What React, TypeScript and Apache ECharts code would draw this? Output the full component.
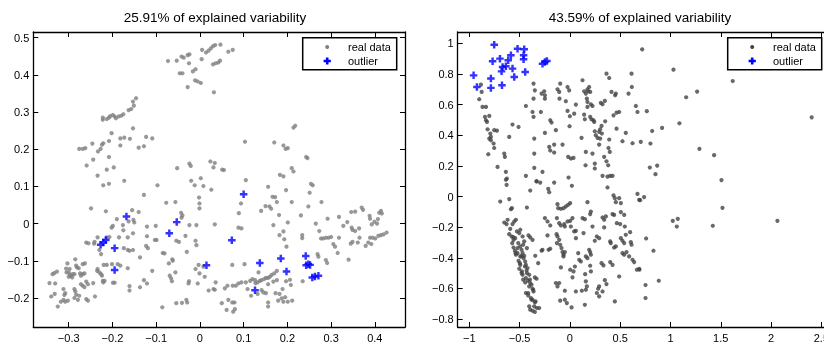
import React, { useEffect, useRef } from 'react';
import * as echarts from 'echarts';

const titles = ['25.91% of explained variability', '43.59% of explained variability'];
const legendNames = ['real data', 'outlier'];

const leftXTicks = [-0.3, -0.2, -0.1, 0, 0.1, 0.2, 0.3, 0.4];
const leftYTicks = [-0.2, -0.1, 0, 0.1, 0.2, 0.3, 0.4, 0.5];
const rightXTicks = [-1, -0.5, 0, 0.5, 1, 1.5, 2, 2.5];
const rightYTicks = [-0.8, -0.6, -0.4, -0.2, 0, 0.2, 0.4, 0.6, 0.8, 1];

const leftRange = { xMin: -0.381, xMax: 0.469, yMin: -0.278, yMax: 0.515 };
const rightRange = { xMin: -1.115, xMax: 2.58, yMin: -0.852, yMax: 1.074 };

const leftReal = [
  [-0.073,0.437],[-0.053,0.438],[-0.042,0.449],[-0.037,0.446],[-0.028,0.453],[-0.024,0.455],[-0.025,0.431],[-0.046,0.404],[-0.040,0.404],[-0.016,0.409],[-0.010,0.415],[-0.011,0.385],[-0.005,0.382],[0.002,0.378],[-0.028,0.367],[0.005,0.467],[0.004,0.442],[0.014,0.460],[0.020,0.465],[0.025,0.471],[0.030,0.477],[0.035,0.480],[0.047,0.481],[0.030,0.428],[0.036,0.431],[0.042,0.433],[0.046,0.438],[0.065,0.462],[0.075,0.467],[0.032,0.353],
  [-0.222,0.285],[-0.222,0.279],[-0.213,0.281],[-0.208,0.285],[-0.205,0.289],[-0.199,0.292],[-0.195,0.288],[-0.192,0.283],[-0.186,0.288],[-0.180,0.290],[-0.175,0.294],[-0.163,0.305],[-0.157,0.308],[-0.151,0.317],[-0.153,0.328],[-0.146,0.337],
  [-0.202,0.243],[-0.153,0.256],[-0.246,0.215],[-0.224,0.212],[-0.221,0.216],[-0.208,0.222],[-0.182,0.229],[-0.173,0.231],[-0.160,0.228],[-0.182,0.210],[-0.123,0.233],[-0.109,0.229],[-0.140,0.204],[-0.128,0.208],[-0.276,0.201],[-0.268,0.201],[-0.262,0.203],[-0.233,0.194],[-0.227,0.201],[-0.244,0.172],[-0.259,0.156],[-0.208,0.179],[-0.213,0.145],[-0.197,0.151],[-0.234,0.129],[-0.173,0.115],
  [-0.052,0.149],[-0.024,0.161],[-0.021,0.155],[0.024,0.167],[0.034,0.163],[0.031,0.151],[0.051,0.145],[-0.020,0.115],[0.002,0.122],
  [0.103,0.220],[0.170,0.218],[0.191,0.210],[0.196,0.201],[0.201,0.203],[0.214,0.258],[0.218,0.263],[0.243,0.179],[0.246,0.176],[0.055,0.144],[0.105,0.117],[0.183,0.131],[0.191,0.127],[0.210,0.149],[0.214,0.140],
  [-0.221,0.103],[-0.208,0.107],[-0.097,0.103],[-0.012,0.103],[0.008,0.101],[0.026,0.091],[-0.128,0.077],[-0.002,0.070],[-0.001,0.054],[-0.001,0.041],[-0.077,0.056],[-0.056,0.058],[0.034,-0.002],
  [-0.249,0.041],[-0.215,0.033],[-0.155,0.036],[-0.140,0.031],[-0.190,0.012],[-0.176,-0.004],[-0.152,0.010],[-0.150,0.003],[-0.163,0.006],[-0.202,-0.011],[-0.199,-0.006],[-0.175,-0.018],[-0.165,-0.037],[-0.153,-0.026],[-0.185,-0.037],[-0.207,-0.036],[-0.213,-0.037],[-0.234,-0.037],[-0.241,-0.049],[-0.260,-0.051],[-0.255,-0.053],[-0.242,-0.054],[-0.230,-0.071],[-0.226,-0.082],[-0.174,-0.066],[-0.165,-0.071],[-0.161,-0.073],[-0.153,-0.071],[-0.137,-0.091],[-0.220,-0.111],[-0.213,-0.111],[-0.201,-0.109],[-0.188,-0.109],[-0.182,-0.113],[-0.165,-0.120],[-0.234,-0.122],[-0.230,-0.131],[-0.224,-0.140],[-0.218,-0.154],[-0.221,-0.158],[-0.199,-0.159],[-0.195,-0.159],[-0.161,-0.168],[-0.161,-0.180],[-0.137,-0.171],[-0.128,-0.152],[-0.121,-0.161],[-0.109,-0.127],[-0.121,-0.008],[-0.121,-0.034],[-0.123,-0.060],[-0.119,-0.066],[-0.101,-0.006],[-0.103,-0.044],[-0.099,-0.044],[-0.085,-0.079],[-0.081,-0.080],[-0.071,-0.107],[-0.069,-0.140],[-0.066,-0.147],[-0.064,-0.155],[-0.086,-0.225],[-0.056,-0.131],[-0.054,-0.214],[-0.041,-0.213],[-0.031,-0.205],[-0.029,-0.212],[-0.063,-0.096],[-0.062,-0.100],[-0.054,-0.046],[-0.048,-0.049],[-0.040,0.022],[-0.042,0.016],[-0.043,0.029],[-0.033,-0.033],[-0.030,-0.076],[-0.024,-0.004],[-0.008,-0.004],[-0.010,-0.046],[-0.008,-0.058],[-0.003,-0.111],[0.008,-0.116],[-0.010,-0.122],[-0.001,-0.134],[-0.005,-0.161],[0.011,-0.143],[0.020,-0.180],[0.031,-0.176],[0.036,-0.158],[-0.026,-0.161],[-0.025,-0.155],
  [-0.344,-0.160],[-0.340,-0.196],[-0.331,-0.161],[-0.332,-0.189],[-0.325,-0.223],[-0.337,-0.136],[-0.333,-0.133],[-0.327,-0.129],[-0.318,-0.210],[-0.312,-0.205],[-0.308,-0.210],[-0.302,-0.207],[-0.312,-0.176],[-0.310,-0.192],[-0.308,-0.187],[-0.303,-0.107],[-0.306,-0.121],[-0.305,-0.131],[-0.300,-0.131],[-0.298,-0.122],[-0.297,-0.138],[-0.295,-0.141],[-0.291,-0.136],[-0.300,-0.143],[-0.292,-0.145],[-0.287,-0.136],[-0.285,-0.096],[-0.283,-0.113],[-0.281,-0.118],[-0.277,-0.120],[-0.274,-0.134],[-0.272,-0.140],[-0.268,-0.136],[-0.264,-0.134],[-0.268,-0.109],[-0.263,-0.107],[-0.272,-0.163],[-0.268,-0.167],[-0.264,-0.171],[-0.256,-0.163],[-0.260,-0.156],[-0.287,-0.176],[-0.285,-0.182],[-0.283,-0.191],[-0.287,-0.200],[-0.279,-0.205],[-0.276,-0.194],[-0.260,-0.203],[-0.256,-0.207],[-0.244,-0.160],[-0.240,-0.196],[-0.235,-0.127],[-0.226,-0.136],[-0.222,-0.154],
  [0.156,0.099],[0.197,0.090],[0.254,0.107],[0.258,0.103],[0.251,0.083],[0.166,0.072],[0.172,0.071],[0.176,0.058],[0.163,0.040],[0.159,0.046],[0.150,0.047],[0.140,0.034],[0.210,0.058],[0.094,0.054],[0.089,0.028],[0.088,-0.011],[0.095,-0.013],[0.168,-0.004],[0.181,0.023],[0.201,0.003],[0.231,0.022],[0.248,0.046],[0.278,0.058],[0.182,-0.031],[0.191,-0.021],[0.193,-0.042],[0.198,-0.062],[0.234,-0.031],[0.234,-0.039],[0.265,0.000],[0.273,-0.020],[0.277,-0.040],[0.282,-0.040],[0.288,-0.038],[0.294,-0.038],[0.300,-0.036],[0.292,0.013],[0.318,0.018],[0.305,-0.055],[0.309,-0.062],[0.315,-0.079],[0.318,-0.038],[0.328,-0.006],[0.337,0.004],[0.346,0.031],[0.355,0.032],[0.347,-0.011],[0.349,-0.017],[0.355,-0.020],[0.364,-0.013],[0.365,-0.038],[0.370,0.043],[0.373,0.037],[0.345,-0.054],[0.349,-0.049],[0.361,-0.051],[0.340,-0.097],[0.379,-0.060],[0.385,-0.051],[0.392,-0.055],[0.388,0.021],[0.389,0.013],[0.393,-0.002],[0.399,0.005],[0.405,0.000],[0.389,-0.038],[0.395,-0.038],[0.401,-0.040],[0.410,0.029],[0.414,0.034],[0.416,0.027],[0.407,0.012],[0.408,-0.033],[0.414,-0.031],[0.420,-0.029],[0.427,-0.024],[0.269,-0.082],[0.271,-0.089],[0.288,-0.098],[0.291,-0.106],[0.235,-0.155],
  [0.034,-0.178],[0.057,-0.174],[0.063,-0.167],[0.075,-0.167],[0.082,-0.167],[0.088,-0.161],[0.095,-0.158],[0.105,-0.158],[0.109,-0.176],[0.115,-0.154],[0.120,-0.149],[0.126,-0.152],[0.127,-0.160],[0.132,-0.158],[0.137,-0.154],[0.141,-0.152],[0.147,-0.149],[0.151,-0.146],[0.156,-0.146],[0.160,-0.143],[0.164,-0.138],[0.170,-0.134],[0.176,-0.127],[0.168,-0.156],[0.176,-0.152],[0.156,-0.163],[0.141,-0.179],[0.145,-0.185],[0.151,-0.187],[0.117,-0.194],[0.132,-0.189],[0.156,-0.212],[0.173,-0.187],[0.182,-0.189],[0.189,-0.176],[0.197,-0.155],[0.206,-0.151],[0.208,-0.165],[0.187,-0.201],[0.195,-0.198],[0.191,-0.210],[0.179,-0.207],[0.201,-0.210],[0.211,-0.207],[0.050,-0.214],[0.065,-0.205],[0.074,-0.212],[0.079,-0.212],[0.061,-0.232],[0.076,-0.237],[0.080,-0.230],[0.156,-0.223],[0.074,-0.111],[0.102,-0.109],[0.134,-0.131],
];

const leftOutlier = [
  [-0.168,0.019],[-0.053,0.004],[-0.070,-0.026],[-0.227,-0.057],[-0.221,-0.051],[-0.215,-0.044],[-0.195,-0.066],[-0.195,-0.125],[0.015,-0.112],[0.073,-0.045],[0.100,0.079],[0.137,-0.106],[0.185,-0.094],[0.198,-0.129],[0.126,-0.179],[0.242,-0.087],[0.243,-0.112],[0.248,-0.109],[0.252,-0.111],[0.257,-0.145],[0.263,-0.142],[0.271,-0.140],
];

const rightReal = [
  [-0.884,0.730],[-0.877,0.683],[-0.901,0.635],[-0.868,0.585],[-0.834,0.585],[-0.844,0.520],[-0.834,0.498],[-0.824,0.487],[-0.801,0.526],[-0.818,0.439],[-0.791,0.411],[-0.785,0.389],[-0.801,0.378],[-0.785,0.367],[-0.752,0.433],[-0.725,0.430],[-0.758,0.346],[-0.752,0.317],[-0.811,0.276],[-0.719,0.193],[-0.652,0.280],[-0.646,0.259],[-0.636,0.161],[-0.626,0.117],[-0.603,0.389],[-0.570,0.470],[-0.510,0.454],[-0.437,0.591],[-0.361,0.737],[-0.348,0.693],[-0.361,0.639],[-0.371,0.552],[-0.361,0.520],[-0.354,0.378],[-0.354,0.280],[-0.354,0.187],[-0.437,0.135],[-0.331,0.100],[-0.288,0.552],[-0.281,0.672],[-0.255,0.687],[-0.248,0.639],[-0.248,0.661],[-0.272,0.161],[-0.248,0.415],[-0.195,0.498],[-0.182,0.483],[-0.205,0.324],[-0.195,0.300],[-0.156,0.339],[-0.139,0.433],[-0.123,0.700],[-0.106,0.683],[-0.103,0.639],[-0.096,0.737],[-0.156,0.287],[-0.073,0.339],[-0.040,0.622],[-0.023,0.715],[-0.007,0.693],[-0.023,0.559],[0.000,0.524],[-0.017,0.259],[0.010,0.248],[0.036,0.252],[-0.003,0.459],[0.043,0.541],[0.060,0.600],[0.116,0.383],[0.126,0.759],[0.142,0.687],[0.159,0.672],[0.175,0.700],[0.182,0.687],[0.192,0.715],[0.202,0.683],[0.169,0.639],[0.175,0.617],[0.142,0.535],[0.149,0.504],[0.175,0.585],[0.209,0.602],[0.225,0.591],[0.202,0.520],[0.215,0.504],[0.235,0.498],[0.242,0.487],[0.159,0.291],[0.225,0.280],[0.248,0.426],[0.258,0.400],[0.275,0.383],[0.291,0.422],[0.301,0.439],[0.315,0.461],[0.318,0.411],[0.301,0.378],[0.248,0.215],[0.291,0.339],[0.341,0.259],[0.325,0.135],[0.364,0.802],[0.391,0.774],[0.308,0.611],[0.325,0.602],[0.348,0.624],[0.351,0.491],[0.364,0.230],[0.384,0.317],[0.397,0.291],[0.414,0.683],[0.450,0.661],[0.457,0.672],[0.391,0.372],[0.434,0.530],[0.464,0.548],[0.490,0.552],[0.464,0.443],[0.556,0.415],[0.523,0.361],[0.583,0.672],[0.613,0.802],[0.616,0.715],[0.656,0.591],[0.672,0.552],[0.705,0.357],[0.719,0.961],[0.248,0.183],[0.381,0.204],[0.401,0.135],[0.156,0.204],[-0.013,0.124],
  [-0.636,0.109],[-0.629,0.076],[-0.331,0.098],[-0.295,0.091],[-0.394,0.039],[-0.215,0.050],[-0.205,0.028],[-0.156,0.091],[0.020,0.070],[0.374,0.130],[0.424,0.135],[0.374,0.059],[0.434,0.007],[0.447,-0.011],[0.490,-0.011],[0.457,-0.037],[0.507,-0.043],[0.672,0.017],[0.689,-0.022],[-0.692,-0.033],[-0.603,-0.017],[-0.586,-0.083],[-0.576,-0.076],[-0.427,-0.072],[-0.123,-0.050],[-0.116,-0.076],[-0.089,-0.080],[-0.063,-0.076],[-0.040,-0.065],[-0.017,-0.054],[0.003,-0.043],[0.175,-0.037],[0.202,-0.115],[0.209,-0.098],[0.225,-0.196],[0.126,-0.141],[0.149,-0.148],[0.136,-0.239],[0.325,-0.137],[0.358,-0.130],[0.341,-0.152],[0.341,-0.202],[0.424,-0.115],[0.440,-0.120],[0.467,-0.174],[0.500,-0.180],[0.507,-0.102],[0.540,-0.120],[0.546,-0.196],[0.599,-0.233],[-0.248,-0.141],[-0.222,-0.163],[-0.195,-0.189],[-0.129,-0.141],[-0.106,-0.174],[-0.089,-0.189],[-0.056,-0.180],[-0.050,-0.196],[-0.023,-0.163],[0.003,-0.159],[0.026,-0.141],[0.010,-0.196],[0.043,-0.228],[0.060,-0.224],[0.060,-0.272],[-0.222,-0.254],[-0.132,-0.246],[-0.123,-0.261],[-0.106,-0.283],[-0.129,-0.304],[-0.096,-0.315],[-0.083,-0.337],[-0.073,-0.363],[-0.063,-0.380],[-0.050,-0.363],[-0.063,-0.391],[-0.281,-0.354],[-0.272,-0.348],[-0.212,-0.348],[-0.195,-0.341],[-0.089,-0.463],[0.003,-0.478],[0.036,-0.489],[0.050,-0.457],[0.026,-0.528],[-0.106,-0.565],[-0.123,-0.587],[-0.050,-0.615],[-0.139,-0.565],[-0.096,-0.680],[-0.050,-0.674],[-0.030,-0.696],[0.017,-0.724],[0.060,-0.620],[0.083,-0.370],[0.093,-0.413],[0.109,-0.424],[0.159,-0.391],[0.175,-0.402],[0.152,-0.507],[0.159,-0.554],[0.119,-0.615],[0.159,-0.609],[0.169,-0.587],[0.149,-0.707],[0.192,-0.348],[0.202,-0.363],[0.209,-0.380],[0.202,-0.452],[0.209,-0.489],[0.268,-0.630],[0.281,-0.602],[0.291,-0.587],[0.291,-0.652],[0.268,-0.261],[0.291,-0.272],[0.248,-0.289],[0.315,-0.435],[0.334,-0.450],[0.348,-0.546],[0.364,-0.572],[0.325,-0.620],[0.401,-0.293],[0.407,-0.304],[0.401,-0.428],[0.424,-0.446],[0.440,-0.333],[0.457,-0.326],[0.447,-0.685],[0.490,-0.522],[0.507,-0.272],[0.523,-0.289],[0.540,-0.304],[0.523,-0.370],[0.540,-0.380],[0.563,-0.363],[0.589,-0.391],[0.606,-0.298],[0.613,-0.315],[0.623,-0.413],[0.639,-0.428],[0.666,-0.478],[0.689,-0.472],[0.556,-0.250],
  [-0.652,-0.170],[-0.629,-0.180],[-0.619,-0.152],[-0.593,-0.211],[-0.570,-0.180],[-0.553,-0.163],[-0.536,-0.152],[-0.603,-0.246],[-0.579,-0.261],[-0.560,-0.283],[-0.543,-0.272],[-0.526,-0.228],[-0.503,-0.239],[-0.493,-0.217],[-0.470,-0.261],[-0.560,-0.333],[-0.546,-0.354],[-0.536,-0.380],[-0.520,-0.370],[-0.513,-0.304],[-0.493,-0.326],[-0.480,-0.348],[-0.470,-0.370],[-0.454,-0.387],[-0.460,-0.402],[-0.444,-0.424],[-0.510,-0.420],[-0.493,-0.446],[-0.503,-0.472],[-0.477,-0.489],[-0.437,-0.446],[-0.421,-0.467],[-0.427,-0.500],[-0.404,-0.511],[-0.437,-0.533],[-0.414,-0.550],[-0.394,-0.565],[-0.381,-0.576],[-0.404,-0.587],[-0.371,-0.602],[-0.361,-0.620],[-0.437,-0.630],[-0.414,-0.646],[-0.387,-0.663],[-0.371,-0.674],[-0.348,-0.691],[-0.354,-0.717],[-0.328,-0.728],[-0.371,-0.746],[-0.348,-0.754],[-0.305,-0.728],[-0.404,-0.717],[-0.394,-0.739],[-0.348,-0.528],[-0.331,-0.537],[-0.315,-0.435],[-0.344,-0.387],[-0.427,-0.337],[-0.371,-0.283],[-0.464,-0.315],[-0.454,-0.293],[-0.411,-0.254],[-0.394,-0.267],[-0.493,-0.391],[-0.470,-0.511],[-0.444,-0.561],
  [-0.563,-0.265],[-0.520,-0.337],[-0.480,-0.391],[-0.447,-0.457],[-0.430,-0.483],[-0.397,-0.543],[-0.364,-0.609],[-0.341,-0.685],[-0.381,-0.674],[-0.414,-0.630],[-0.464,-0.543],[-0.480,-0.500],[-0.497,-0.435],[-0.540,-0.370],[-0.573,-0.304],
  [1.030,0.828],[1.619,0.754],[1.156,0.648],[1.265,0.685],[0.765,0.557],[1.089,0.478],[0.818,0.428],[0.917,0.448],[0.801,0.346],[2.404,0.517],[1.288,0.311],[1.434,0.270],[0.795,0.189],[0.868,0.202],[0.851,0.146],[1.507,0.107],[0.738,-0.004],[0.699,-0.024],[1.517,-0.074],[1.023,-0.159],[1.073,-0.146],[1.063,-0.196],[1.421,-0.191],[2.063,-0.159],[0.758,-0.274],[0.831,-0.354],[0.692,-0.478],[0.752,-0.578],[0.884,-0.550],[0.752,-0.663],[0.623,0.348],
];

const rightOutlier = [
  [-0.752,0.991],[-0.957,0.791],[-0.924,0.715],[-0.785,0.770],[-0.785,0.709],[-0.768,0.883],[-0.695,0.900],[-0.675,0.726],[-0.679,0.817],[-0.669,0.846],[-0.636,0.850],[-0.613,0.889],[-0.586,0.922],[-0.570,0.835],[-0.553,0.780],[-0.520,0.965],[-0.454,0.961],[-0.460,0.922],[-0.460,0.896],[-0.444,0.813],[-0.272,0.867],[-0.248,0.878],[-0.228,0.885],
];

const FONT = '"Liberation Sans", Arial, Helvetica, sans-serif';
const LEFT_GRAY = '#808080';
const RIGHT_GRAY = '#444444';
const BLUE = '#0000ff';
const PLUS = 'path://M2.7,0H5.3V2.7H8V5.3H5.3V8H2.7V5.3H0V2.7H2.7Z';

function fmt(v: number) {
  const r = Math.round(v * 100) / 100;
  if (r === 0) return '0';
  return r < 0 ? '\u2212' + String(-r) : String(r);
}

function xAxis(grid: number, r: any, ticks: number[], pos: string, labels: boolean) {
  return {
    type: 'value', gridIndex: grid, min: r.xMin, max: r.xMax, position: pos,
    axisLine: { show: true, onZero: false, lineStyle: { color: '#000', width: 1.3 } },
    axisTick: { show: true, inside: true, length: 5, customValues: ticks, lineStyle: { color: '#000', width: 1 } },
    axisLabel: { show: labels, customValues: ticks, formatter: fmt, color: '#000', fontSize: 11, fontFamily: FONT, margin: 5, hideOverlap: false },
    splitLine: { show: false },
  };
}
function yAxis(grid: number, r: any, ticks: number[], pos: string, labels: boolean) {
  return {
    type: 'value', gridIndex: grid, min: r.yMin, max: r.yMax, position: pos,
    axisLine: { show: true, onZero: false, lineStyle: { color: '#000', width: 1.3 } },
    axisTick: { show: true, inside: true, length: 5, customValues: ticks, lineStyle: { color: '#000', width: 1 } },
    axisLabel: { show: labels, customValues: ticks, formatter: fmt, color: '#000', fontSize: 11, fontFamily: FONT, margin: 4 },
    splitLine: { show: false },
  };
}

function legendBox(x: number, dotColor: string) {
  const y = 37.7;
  const mx = x + 24.5;
  const py = y + 23.3;
  const a = 3.6, t = 1.3;
  return [
    { type: 'rect', z: 100, shape: { x, y, width: 94, height: 32 }, style: { fill: '#fff', stroke: '#000', lineWidth: 1.5 } },
    { type: 'circle', z: 101, shape: { cx: mx, cy: y + 9.3, r: 2 }, style: { fill: dotColor } },
    { type: 'polygon', z: 101, shape: { points: [[mx - t, py - a], [mx + t, py - a], [mx + t, py - t], [mx + a, py - t], [mx + a, py + t], [mx + t, py + t], [mx + t, py + a], [mx - t, py + a], [mx - t, py + t], [mx - a, py + t], [mx - a, py - t], [mx - t, py - t]] }, style: { fill: BLUE } },
    { type: 'text', z: 101, x: x + 45.3, y: y + 9.3, style: { text: legendNames[0], font: '11px ' + FONT, fill: '#000', textVerticalAlign: 'middle', verticalAlign: 'middle' } },
    { type: 'text', z: 101, x: x + 45.3, y: py, style: { text: legendNames[1], font: '11px ' + FONT, fill: '#000', textVerticalAlign: 'middle', verticalAlign: 'middle' } },
  ];
}

export default function App() {
  const ref = useRef<HTMLDivElement>(null);
  useEffect(() => {
    const chart = echarts.init(ref.current!, null, { renderer: 'svg' });
    chart.setOption({
      animation: false,
      grid: [
        { left: 33.3, top: 32, width: 371.7, height: 296 },
        { left: 457.7, top: 32, width: 371.7, height: 296 },
      ],
      xAxis: [
        xAxis(0, leftRange, leftXTicks, 'bottom', true),
        xAxis(0, leftRange, leftXTicks, 'top', false),
        xAxis(1, rightRange, rightXTicks, 'bottom', true),
        xAxis(1, rightRange, rightXTicks, 'top', false),
      ],
      yAxis: [
        yAxis(0, leftRange, leftYTicks, 'left', true),
        yAxis(0, leftRange, leftYTicks, 'right', false),
        yAxis(1, rightRange, rightYTicks, 'left', true),
        yAxis(1, rightRange, rightYTicks, 'right', false),
      ],
      series: [
        { type: 'scatter', name: legendNames[0], xAxisIndex: 0, yAxisIndex: 0, data: leftReal, symbol: 'circle', symbolSize: 4.2, itemStyle: { color: LEFT_GRAY } },
        { type: 'scatter', name: legendNames[1], xAxisIndex: 0, yAxisIndex: 0, data: leftOutlier, symbol: PLUS, symbolSize: 7.5, itemStyle: { color: BLUE }, z: 3 },
        { type: 'scatter', name: legendNames[0], xAxisIndex: 2, yAxisIndex: 2, data: rightReal, symbol: 'circle', symbolSize: 4.2, itemStyle: { color: RIGHT_GRAY } },
        { type: 'scatter', name: legendNames[1], xAxisIndex: 2, yAxisIndex: 2, data: rightOutlier, symbol: PLUS, symbolSize: 7.5, itemStyle: { color: BLUE }, z: 3 },
      ],
      graphic: [
        { type: 'text', x: 215, y: 17, style: { text: titles[0], font: '13.5px ' + FONT, fill: '#000', textAlign: 'center', align: 'center', textVerticalAlign: 'middle', verticalAlign: 'middle' } },
        { type: 'text', x: 640, y: 17, style: { text: titles[1], font: '13.5px ' + FONT, fill: '#000', textAlign: 'center', align: 'center', textVerticalAlign: 'middle', verticalAlign: 'middle' } },
        ...legendBox(302.7, LEFT_GRAY),
        ...legendBox(727.7, RIGHT_GRAY),
      ],
    });
    return () => chart.dispose();
  }, []);
  return (
    <div style={{ position: 'fixed', left: 0, top: 0, width: 824, height: 343, overflow: 'hidden' }}>
      <div ref={ref} style={{ width: 850, height: 343 }} />
    </div>
  );
}
